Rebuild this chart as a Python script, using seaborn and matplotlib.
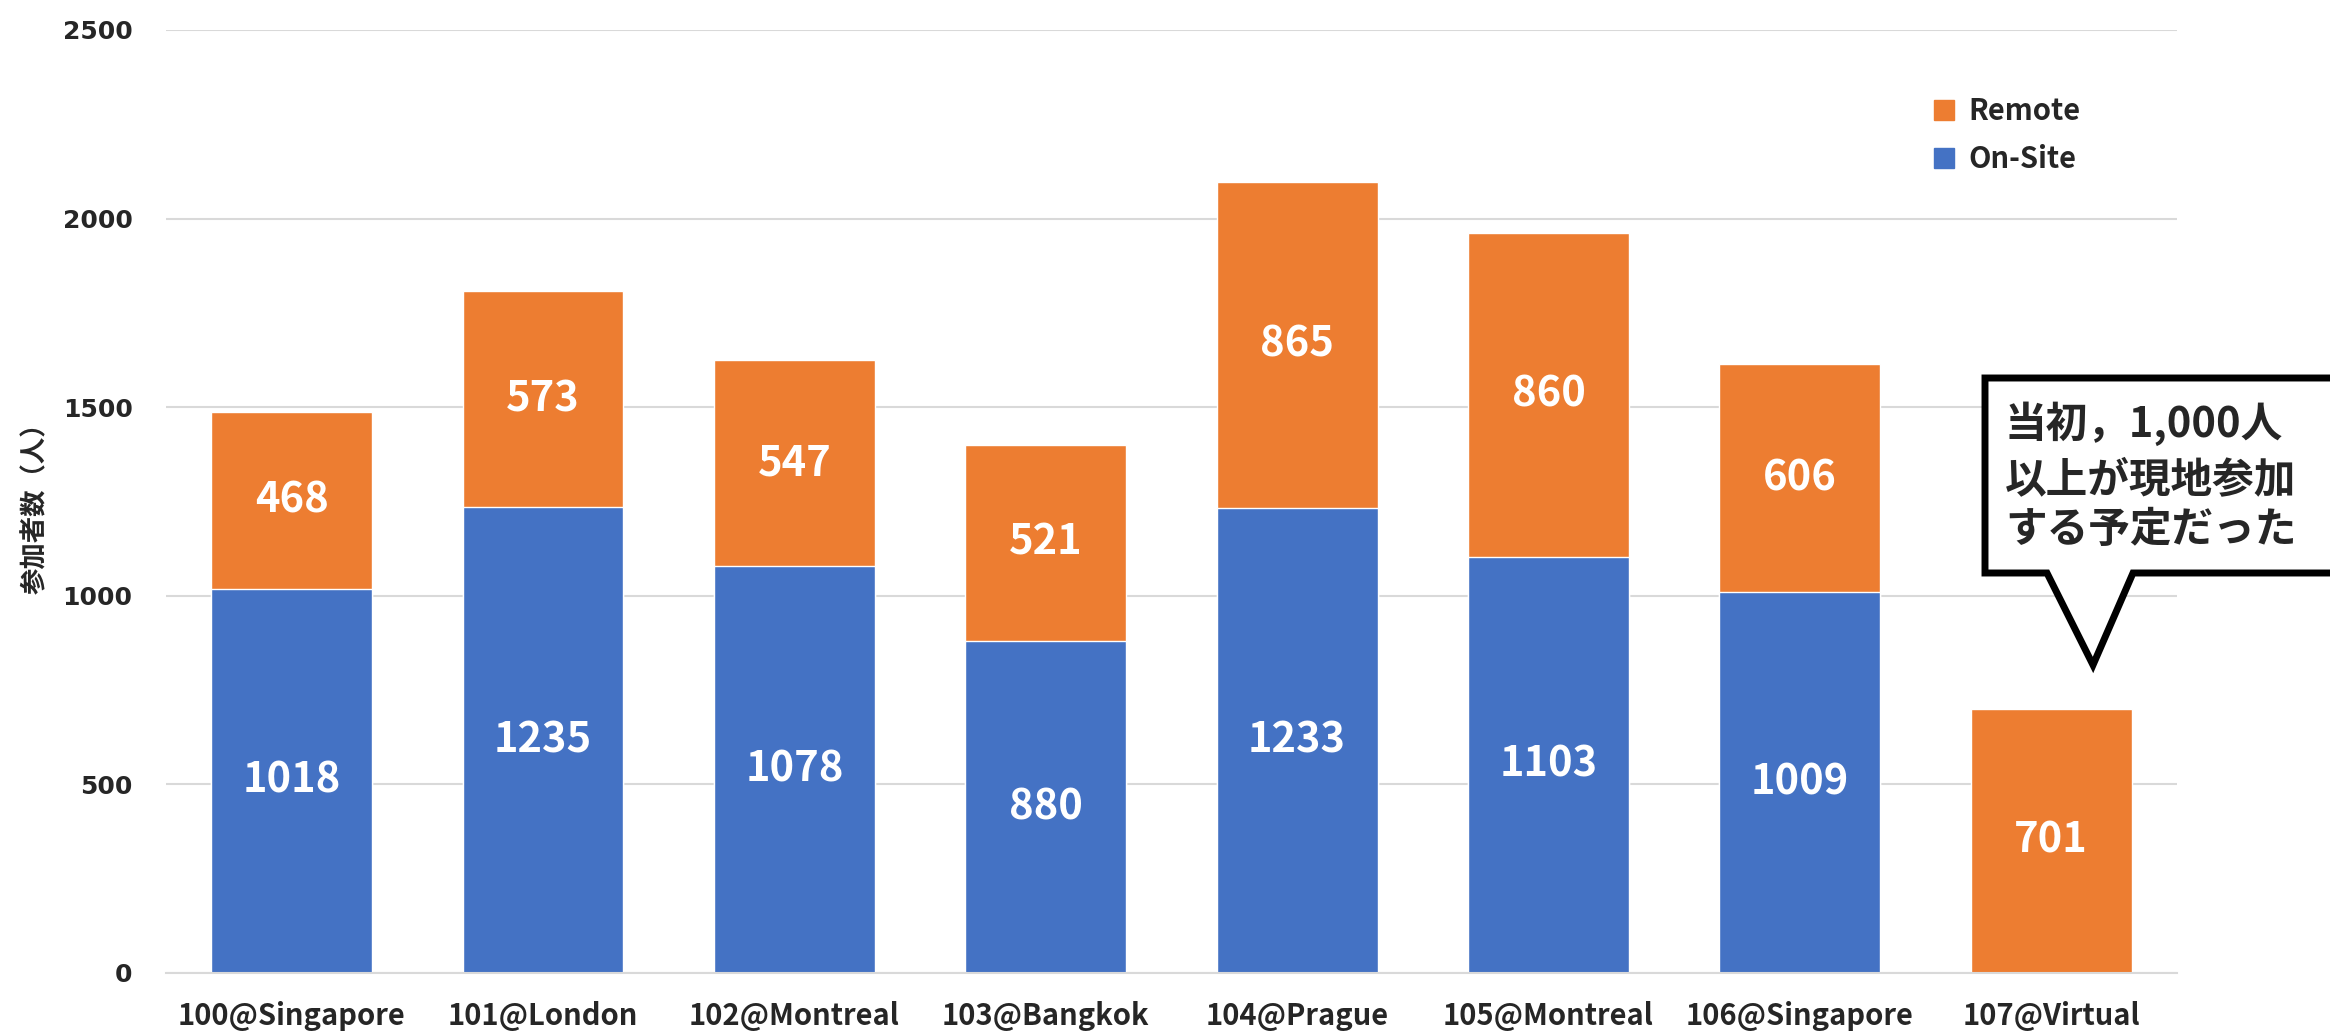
import matplotlib
matplotlib.use("Agg")
import matplotlib.pyplot as plt
from matplotlib.lines import Line2D
from matplotlib.patches import Polygon
import pandas as pd
import seaborn as sns

# ── Data ────────────────────────────────────────────────────────────────────
meetings = ["100@Singapore", "101@London", "102@Montreal", "103@Bangkok",
            "104@Prague", "105@Montreal", "106@Singapore", "107@Virtual"]
onsite = [1018, 1235, 1078, 880, 1233, 1103, 1009, 0]
remote = [468, 573, 547, 521, 865, 860, 606, 701]
y_ticks = [0, 500, 1000, 1500, 2000, 2500]
note_lines = ["当初，1,000人", "以上が現地参加", "する予定だった"]

BLUE = "#4472C4"
ORANGE = "#ED7D31"

sns.set_theme(style="whitegrid")
plt.rcParams["font.family"] = ["Noto Sans CJK JP", "DejaVu Sans"]

df = pd.DataFrame({"meeting": meetings, "onsite": onsite, "remote": remote})
df["total"] = df["onsite"] + df["remote"]

fig = plt.figure(figsize=(23.3, 10.34), dpi=100)
ax = fig.add_axes([0.0712, 0.059, 0.8631, 0.912])

# stacked: draw totals in orange, then on-site on top in blue
sns.barplot(data=df, x="meeting", y="total", color=ORANGE, width=0.64,
            saturation=1, ax=ax)
sns.barplot(data=df, x="meeting", y="onsite", color=BLUE, width=0.64,
            saturation=1, ax=ax)

# value labels
for i, row in df.iterrows():
    if row["onsite"] > 0:
        ax.text(i, row["onsite"] / 2, f"{row['onsite']}", ha="center",
                va="center", color="white", fontsize=30, fontweight="bold")
    ax.text(i, row["onsite"] + row["remote"] / 2, f"{row['remote']}",
            ha="center", va="center", color="white", fontsize=30,
            fontweight="bold")

ax.set_xlim(-0.5, len(meetings) - 0.5)
ax.set_ylim(0, 2500)
ax.set_yticks(y_ticks)
ax.set_yticklabels([str(t) for t in y_ticks], fontsize=18, fontweight="bold",
                   family=["DejaVu Sans"])
ax.set_xticks(range(len(meetings)))
ax.set_xticklabels(meetings, fontsize=21, fontweight="bold",
                   family=["Liberation Sans Narrow", "Noto Sans CJK JP"])
ax.tick_params(axis="y", length=0, pad=24)
ax.tick_params(axis="x", length=0, pad=20)
ax.set_xlabel("")
ax.set_ylabel("参加者数（人）", fontsize=19, fontweight="bold", labelpad=10)

ax.grid(axis="y", color="#D9D9D9", linewidth=1.5)
ax.grid(axis="x", visible=False)
for side in ["left", "right", "top"]:
    ax.spines[side].set_visible(False)
ax.spines["bottom"].set_color("#D9D9D9")
ax.spines["bottom"].set_linewidth(1.5)
ax.set_axisbelow(True)
ax.set_facecolor("white")

# legend
handles = [
    Line2D([], [], marker="s", linestyle="", color=ORANGE, markersize=15,
           label="Remote"),
    Line2D([], [], marker="s", linestyle="", color=BLUE, markersize=15,
           label="On-Site"),
]
fig.legend(handles=handles, loc="upper left",
           bbox_to_anchor=(1903 / 2330, 1 - 70 / 1034), frameon=False,
           handletextpad=0.35, labelspacing=0.6, handlelength=1.0,
           prop={"size": 21, "weight": "bold"})

# speech-bubble callout
W, H = 2330, 1034
pts = [(1985, 378), (2345, 378), (2345, 573), (2133, 573), (2093, 665),
       (2047, 573), (1985, 573)]
bubble = Polygon([(x / W, 1 - y / H) for x, y in pts], closed=True,
                 transform=fig.transFigure, facecolor="white",
                 edgecolor="black", linewidth=5, joinstyle="miter",
                 zorder=10)
fig.patches.append(bubble)
for line, yc in zip(note_lines, [424, 480, 530]):
    fig.text(2005 / W, 1 - yc / H, line, ha="left", va="center",
             fontsize=30, fontweight="bold", zorder=11)

fig.savefig("out.png", dpi=100, facecolor="white")
